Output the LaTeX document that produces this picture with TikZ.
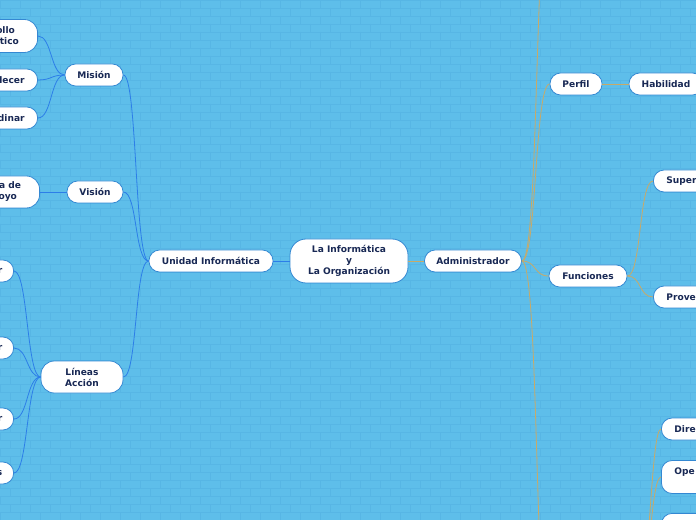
\documentclass[tikz,border=0pt]{standalone}
\usepackage{fontspec}
\setmainfont{DejaVu Sans}
\usetikzlibrary{positioning}
\definecolor{bgblue}{RGB}{94,190,234}
\definecolor{brick}{RGB}{87,182,229}
\definecolor{nodeedge}{RGB}{52,136,210}
\definecolor{inktext}{RGB}{24,40,84}
\definecolor{bluelink}{RGB}{44,126,232}
\definecolor{goldlink}{RGB}{200,170,104}

\tikzset{
  topic/.style={draw=nodeedge,line width=0.6pt,fill=white,rounded corners=8pt,
    text=inktext,font=\fontsize{6.8}{8.3}\selectfont\bfseries,align=center,
    minimum height=16.5pt,inner sep=1pt},
  leftcut/.style={topic,anchor=east,text width=60pt,align=right,inner xsep=#1},
  rightcut/.style={topic,anchor=west,text width=60pt,align=left,inner xsep=#1},
  bluelink/.style={draw=bluelink,line width=0.6pt},
  goldlink/.style={draw=goldlink,line width=0.6pt}
}

\begin{document}
\begin{tikzpicture}[x=0.75pt,y=-0.75pt]
  \useasboundingbox (0,0) rectangle (696,520);
  \clip (0,0) rectangle (696,520);
  % brick wall background
  \fill[bgblue] (0,0) rectangle (696,520);
  \foreach \r in {0,...,65} \draw[brick,line width=0.4pt] (0,\r*8) -- (696,\r*8);
  \foreach \r in {0,...,64} \foreach \c in {0,...,35}
    \draw[brick,line width=0.4pt] ({\c*20+mod(\r,2)*10},\r*8) -- ++(0,8);

  % central topic and main branches
  \node[topic,minimum width=88.5pt,minimum height=33pt,rounded corners=12pt] (root) at (349,261)
    {La Informática\\y\\La Organización};
  \node[topic,minimum width=93pt] (ui) at (211,261) {Unidad Informática};
  \node[topic,minimum width=72.75pt] (adm) at (473,261) {Administrador};

  % left side
  \node[topic,minimum width=43.5pt] (mis) at (94,75) {Misión};
  \node[topic,minimum width=42pt] (vis) at (95,192) {Visión};
  \node[topic,minimum width=61.5pt,minimum height=24pt,rounded corners=10pt] (lin) at (82,377) {Líneas\\Acción};
  \node[leftcut=14pt,minimum height=24.75pt,rounded corners=10pt] (mis1) at (38,36) {ollo\kern3pt\\tico};
  \node[leftcut=9.75pt] (mis2) at (38,80) {lecer};
  \node[leftcut=9.75pt] (mis3) at (38,118) {dinar};
  \node[leftcut=14pt,minimum height=24pt,rounded corners=10pt] (vis1) at (40,192) {a de\\oyo\kern3pt};
  \node[leftcut=8.5pt] (lin1) at (14,271) {r};
  \node[leftcut=8.5pt] (lin2) at (14,348) {r};
  \node[leftcut=8.5pt] (lin3) at (14,419) {r};
  \node[leftcut=8.5pt] (lin4) at (14,473) {s};

  % right side
  \node[topic,minimum width=39pt] (per) at (576,84) {Perfil};
  \node[topic,minimum width=55.5pt] (hab) at (666,84) {Habilidad};
  \node[topic,minimum width=58.5pt] (fun) at (588,276) {Funciones};
  \node[rightcut=9.75pt] (sup) at (653,181) {Super};
  \node[rightcut=9.75pt] (pro) at (653,297) {Prove};
  \node[rightcut=9.75pt] (dir) at (661,429) {Dire};
  \node[rightcut=9.75pt,minimum height=24.75pt] (ope) at (661,477) {Ope\\~};
  \node[rightcut=9.75pt,anchor=north west] (low) at (661,513) {};
  \coordinate (admup) at (552,-120);
  \coordinate (admdown) at (552,660);
  \coordinate (lowpar) at (640,580);

  % connectors
  \draw[bluelink] (ui) -- (root);
  \draw[goldlink] (root) -- (adm);
  \foreach \k in {mis,vis,lin}
    \draw[bluelink] (ui.west) .. controls +(-14,0) and +(14,0) .. (\k.east);
  \foreach \k in {mis1,mis2,mis3}
    \draw[bluelink] (mis.west) .. controls +(-14,0) and +(14,0) .. (\k.east);
  \draw[bluelink] (vis.west) -- (vis1.east);
  \foreach \k in {lin1,lin2,lin3,lin4}
    \draw[bluelink] (lin.west) .. controls +(-14,0) and +(14,0) .. (\k.east);
  \foreach \k in {per,fun}
    \draw[goldlink] (adm.east) .. controls +(15,0) and +(-15,0) .. (\k.west);
  \draw[goldlink] (adm.east) .. controls +(18,0) and +(-18,0) .. (admup);
  \draw[goldlink] (adm.east) .. controls +(18,0) and +(-18,0) .. (admdown);
  \draw[goldlink] (per) -- (hab);
  \foreach \k in {sup,pro}
    \draw[goldlink] (fun.east) .. controls +(14,0) and +(-14,0) .. (\k.west);
  \foreach \k in {dir,ope,low}
    \draw[goldlink] (lowpar) .. controls +(10,0) and +(-10,0) .. (\k.west);
\end{tikzpicture}
\end{document}
